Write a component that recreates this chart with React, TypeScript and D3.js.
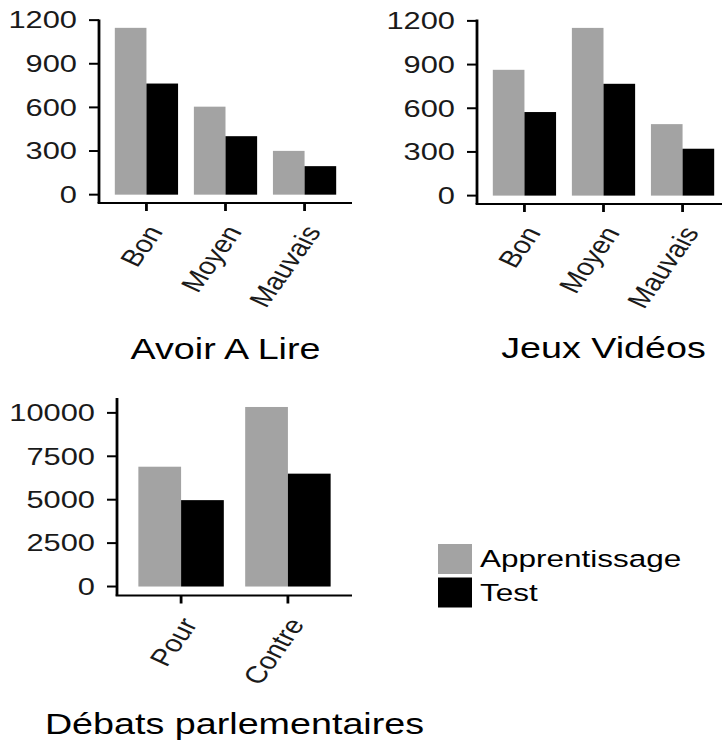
import React from "react";
import * as d3 from "d3";

const notes = ["Bon", "Moyen", "Mauvais"];
const avoirApprentissage = [1147, 605, 301];
const avoirTest = [764, 402, 196];
const jeuxApprentissage = [864, 1152, 491];
const jeuxTest = [574, 768, 322];
const debats = ["Pour", "Contre"];
const debatsApprentissage = [6900, 10340];
const debatsTest = [4975, 6500];
const ticksSmall = [0, 300, 600, 900, 1200];
const ticksLarge = [0, 2500, 5000, 7500, 10000];
const series = ["Apprentissage", "Test"];
const colors = ["#a3a3a3", "#000000"];

const SX = 1.34;
const SX_LABEL = 1.25;
const SX_TITLE = 1.3;
const FONT = "Liberation Sans, Arial, Helvetica, sans-serif";
const TICK_FS = 23;
const LABEL_FS = 24;
const TITLE_FS = 29;
const LEGEND_FS = 23.5;
const ANGLE = 60;

type PanelProps = {
  cats: string[];
  a: number[];
  b: number[];
  ticks: number[];
  x0: number;
  x1: number;
  yTop: number;
  yBot: number;
  title: string;
  titleY: number;
};

function Panel({ cats, a, b, ticks, x0, x1, yTop, yBot, title, titleY }: PanelProps) {
  const max = d3.max([...a, ...b]) as number;
  const y = d3.scaleLinear().domain([-0.05 * max, 1.05 * max]).range([yBot, yTop]);
  const x = d3.scaleBand().domain(cats).range([x0, x1]).paddingInner(0.2).paddingOuter(0.2);
  const xs = d3.scaleBand().domain(series).range([0, x.bandwidth()]);
  const vals = [a, b];
  return (
    <g>
      {cats.map((c, i) =>
        series.map((s, j) => (
          <rect
            key={c + s}
            x={(x(c) as number) + (xs(s) as number)}
            y={y(vals[j][i])}
            width={xs.bandwidth()}
            height={y(0) - y(vals[j][i])}
            fill={colors[j]}
          />
        ))
      )}
      <line x1={x0} x2={x0} y1={yTop} y2={yBot} stroke="#000" strokeWidth={2.8} />
      <line x1={x0 - 1.4} x2={x1} y1={yBot} y2={yBot} stroke="#000" strokeWidth={2} />
      {ticks.map((t) => (
        <g key={t}>
          <line x1={x0 - 10} x2={x0} y1={y(t)} y2={y(t)} stroke="#000" strokeWidth={2} />
          <text
            transform={`translate(${x0 - 22},${y(t)}) scale(${SX},1)`}
            textAnchor="end"
            dy="0.36em"
            fontSize={TICK_FS}
            fontFamily={FONT}
            fill="#1a1a1a"
          >
            {t}
          </text>
        </g>
      ))}
      {cats.map((c) => {
        const cx = (x(c) as number) + x.bandwidth() / 2;
        return (
          <g key={c}>
            <line x1={cx} x2={cx} y1={yBot} y2={yBot + 8} stroke="#000" strokeWidth={2.8} />
            <text
              transform={`translate(${cx - 1.5},${yBot + 20}) scale(${SX_LABEL},1) rotate(-${ANGLE})`}
              textAnchor="end"
              dy="0.72em"
              fontSize={LABEL_FS}
              fontFamily={FONT}
              fill="#1a1a1a"
            >
              {c}
            </text>
          </g>
        );
      })}
      <text
        transform={`translate(${(x0 + x1) / 2},${titleY}) scale(${SX_TITLE},1)`}
        textAnchor="middle"
        fontSize={TITLE_FS}
        fontFamily={FONT}
        fill="#000"
      >
        {title}
      </text>
    </g>
  );
}

export default function App() {
  return (
    <svg
      width={722}
      height={742}
      style={{ position: "absolute", left: 0, top: 0, background: "#fff" }}
    >
      <rect x={0} y={0} width={722} height={742} fill="#fff" />
      <Panel
        cats={notes}
        a={avoirApprentissage}
        b={avoirTest}
        ticks={ticksSmall}
        x0={99}
        x1={352}
        yTop={19.5}
        yBot={203}
        title="Avoir A Lire"
        titleY={358.5}
      />
      <Panel
        cats={notes}
        a={jeuxApprentissage}
        b={jeuxTest}
        ticks={ticksSmall}
        x0={477}
        x1={730}
        yTop={19.5}
        yBot={204}
        title="Jeux Vidéos"
        titleY={358}
      />
      <Panel
        cats={debats}
        a={debatsApprentissage}
        b={debatsTest}
        ticks={ticksLarge}
        x0={117}
        x1={352}
        yTop={398}
        yBot={595.5}
        title="Débats parlementaires"
        titleY={734}
      />
      {series.map((s, i) => (
        <g key={s}>
          <rect x={438} y={544 + i * 33.5} width={34} height={30} fill={colors[i]} />
          <text
            transform={`translate(480,${559 + i * 33.5}) scale(${SX},1)`}
            dy="0.36em"
            fontSize={LEGEND_FS}
            fontFamily={FONT}
            fill="#000"
          >
            {s}
          </text>
        </g>
      ))}
    </svg>
  );
}
